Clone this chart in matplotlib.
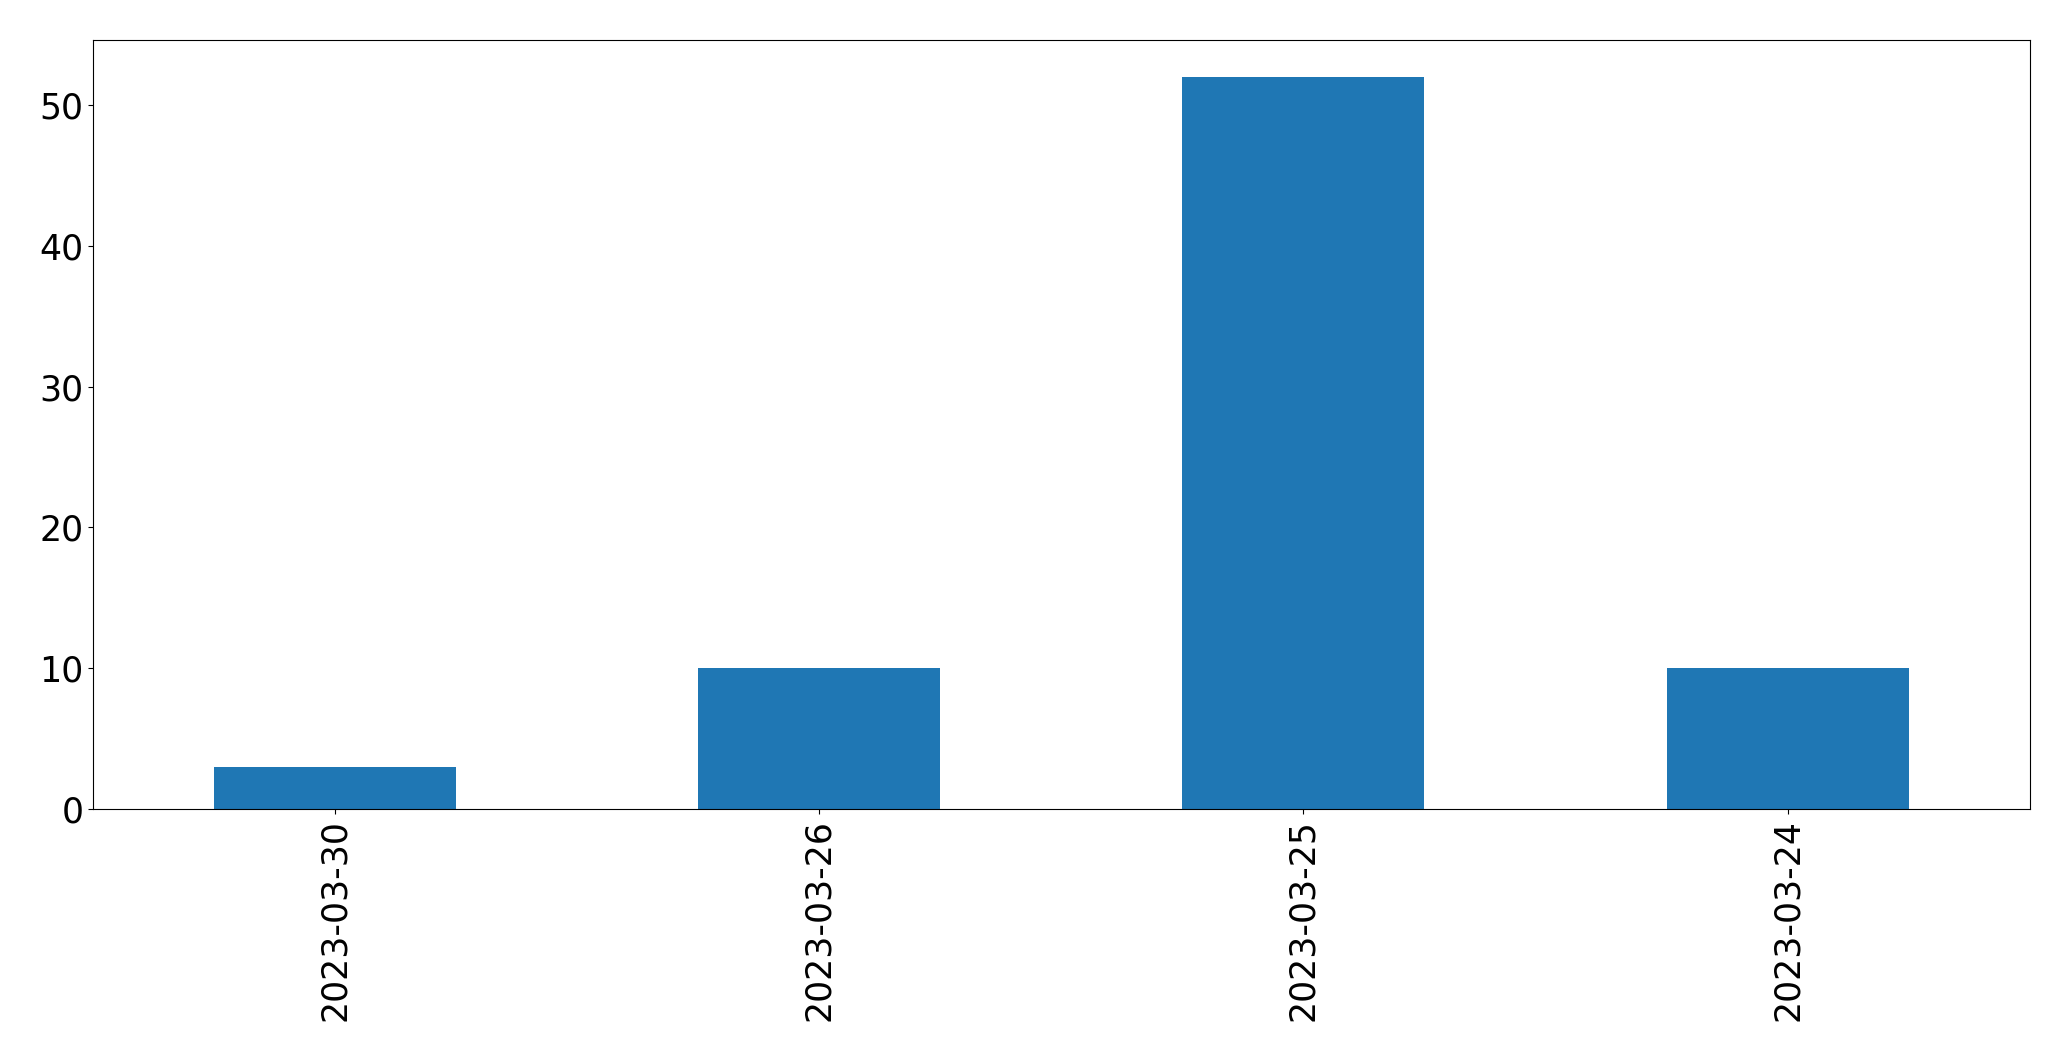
import matplotlib
matplotlib.use("Agg")
import matplotlib.pyplot as plt
import pandas as pd

dates = ["2023-03-30", "2023-03-26", "2023-03-25", "2023-03-24"]
counts = [3, 10, 52, 10]

s = pd.Series(counts, index=dates)

fig, ax = plt.subplots(figsize=(20.71, 10.61), dpi=100)
s.plot(kind="bar", ax=ax, color="#1f77b4")
ax.tick_params(axis="both", labelsize=25)
plt.subplots_adjust(left=0.045, right=0.98, top=0.962, bottom=0.2375)
fig.savefig("out.png", dpi=100)
